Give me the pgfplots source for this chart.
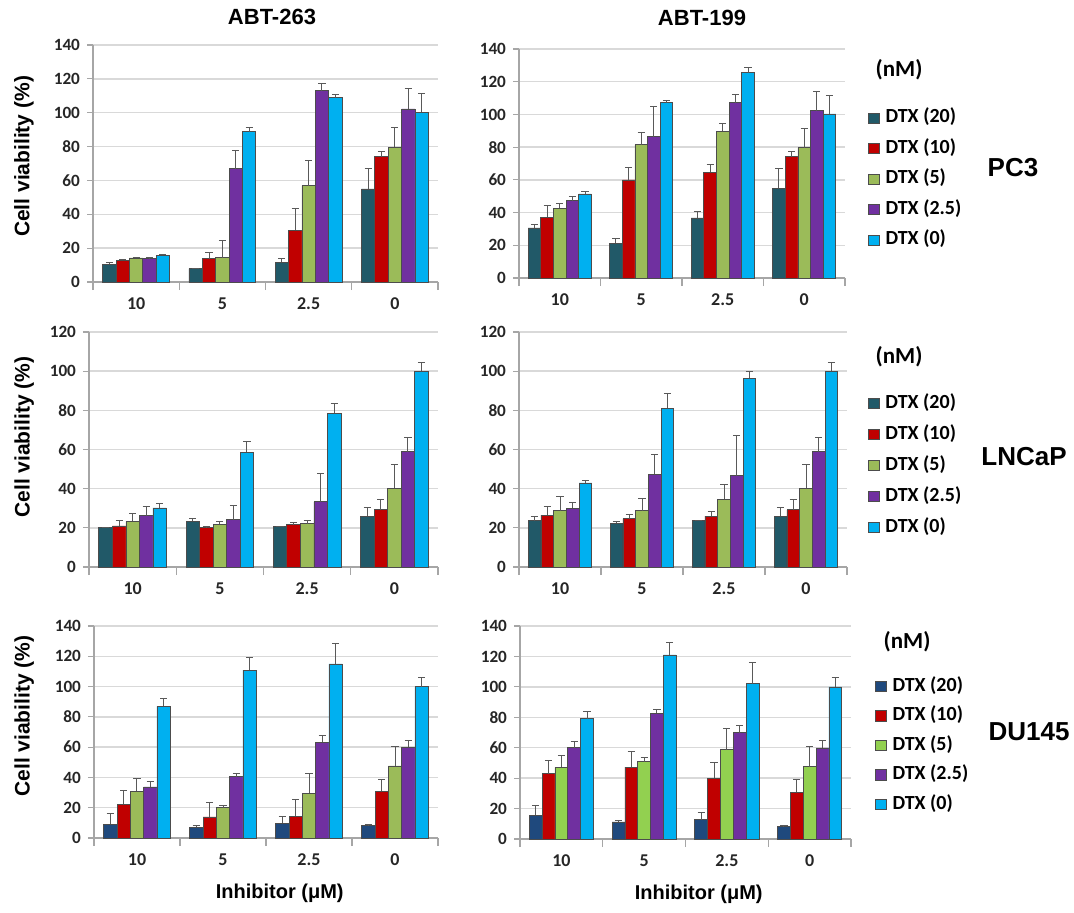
\documentclass[border=0pt]{standalone}
\usepackage{pgfplots}
\pgfplotsset{compat=1.18}
\usepackage{pgfplotstable}
\usepackage{fontspec}
\setmainfont{Carlito}
\newfontfamily\arialf{Liberation Sans}

\definecolor{cA}{HTML}{215968}
\definecolor{cAd}{HTML}{1F497D}
\definecolor{cB}{HTML}{C00000}
\definecolor{cC}{HTML}{9BBB59}
\definecolor{cCd}{HTML}{92D050}
\definecolor{cD}{HTML}{7030A0}
\definecolor{cE}{HTML}{00B0F0}
\definecolor{gridgray}{HTML}{D9D9D9}
\definecolor{axgray}{HTML}{A6A6A6}
\definecolor{errgray}{HTML}{595959}

\pgfplotstableread{
g a ea b eb c ec d ed e ee
0 10.6 1.2 12.8 0.5 14.2 0.4 14.0 0.4 15.9 0.4
1 7.9 0.0 13.8 3.9 14.4 10.0 66.9 10.8 88.9 2.3
2 11.8 2.0 30.7 12.9 57.0 15.0 113.0 4.4 108.9 2.0
3 55.0 12.2 74.1 3.0 79.6 11.6 102.2 12.0 100.3 11.2
}\tPCa
\pgfplotstableread{
g a ea b eb c ec d ed e ee
0 30.6 2.1 37.1 7.0 42.7 2.8 47.3 2.3 51.4 1.3
1 21.2 3.1 60.0 7.3 81.6 7.4 86.3 18.8 107.1 1.7
2 36.7 3.9 64.7 4.5 89.6 4.7 107.1 4.9 125.5 3.3
3 55.0 12.2 74.1 3.0 79.6 11.6 102.2 12.0 100.3 11.2
}\tPCb
\pgfplotstableread{
g a ea b eb c ec d ed e ee
0 20.2 0.0 21.0 2.6 23.3 4.0 26.3 4.8 30.2 2.2
1 23.3 1.3 20.0 0.5 21.9 1.5 24.1 7.5 58.6 5.6
2 20.9 0.0 21.6 1.3 22.2 1.4 33.3 14.2 78.4 4.9
3 26.0 4.2 29.2 5.3 40.1 12.2 58.9 7.1 100.0 4.5
}\tLNa
\pgfplotstableread{
g a ea b eb c ec d ed e ee
0 23.7 2.0 26.5 4.4 28.7 7.1 30.1 3.0 42.9 1.5
1 22.3 0.7 24.7 2.2 28.7 6.5 47.3 10.0 81.1 7.5
2 23.7 0.3 26.0 2.4 34.5 7.4 46.6 20.7 96.3 3.4
3 26.0 4.2 29.2 5.3 40.1 12.2 58.9 7.1 100.0 4.5
}\tLNb
\pgfplotstableread{
g a ea b eb c ec d ed e ee
0 9.0 7.0 22.2 9.3 31.0 8.0 33.7 3.7 87.0 5.3
1 7.0 1.0 13.9 9.7 20.0 1.5 40.5 2.0 110.8 8.4
2 9.9 4.0 14.5 11.0 29.5 13.0 63.2 4.8 115.0 13.6
3 8.1 0.9 30.8 8.0 47.6 13.0 59.9 4.6 100.0 6.0
}\tDUa
\pgfplotstableread{
g a ea b eb c ec d ed e ee
0 15.6 6.7 42.9 9.0 47.1 7.5 60.0 3.8 79.1 5.0
1 11.2 0.8 47.3 9.9 50.8 2.7 82.6 2.4 121.0 8.3
2 12.7 4.6 39.9 10.5 58.7 13.8 69.9 5.0 102.1 14.2
3 8.1 0.9 30.8 8.0 47.6 13.0 59.9 4.6 100.0 6.0
}\tDUb

\pgfplotsset{
  panel/.style={
    scale only axis, ybar, bar width=0.155,
    xmin=-0.5, xmax=3.5, ymin=0,
    xtick={0,1,2,3}, xticklabels={10,5,2.5,0},
    major x tick style={draw=none},
    minor xtick={-0.5,0.5,1.5,2.5,3.5},
    minor x tick style={draw=axgray, line width=0.6pt},
    minor tick length=4pt,
    axis x line*=bottom, axis y line*=left,
    axis line style={axgray, line width=0.7pt},
    tick align=outside,
    ymajorgrids, grid style={gridgray, line width=0.7pt},
    ytick distance=20,
    major y tick style={draw=axgray, line width=0.6pt},
    major tick length=3pt,
    tick label style={font=\bfseries\fontsize{8.6}{10}\selectfont, text=black!85},
    xticklabel style={font=\bfseries\fontsize{9}{10}\selectfont, yshift=-1.5pt},
    /pgf/number format/assume math mode=true,
    error bars/y dir=plus, error bars/y explicit,
    error bars/error bar style={errgray, line width=0.5pt},
    error bars/error mark options={errgray, line width=0.5pt, mark size=1.8pt, rotate=90},
    legend image code/.code={\draw[#1] (0pt,-2.6pt) rectangle (5.2pt,2.6pt);},
    legend cell align=left,
    legend style={anchor=west, draw=none, fill=none, inner sep=0pt,
      row sep=4.45pt, font=\bfseries\fontsize{10}{11}\selectfont,
      /tikz/every odd column/.append style={column sep=1.8pt},
      nodes={inner sep=1.2pt, text height=6.6pt, text depth=1.8pt}},
  },
  ylab/.style={ylabel={Cell viability (\%)},
    ylabel style={font=\arialf\bfseries\fontsize{10.5}{12}\selectfont, at={(axis description cs:#1)}, anchor=center}},
  xlab/.style={xlabel={Inhibitor (μM)},
    xlabel style={font=\arialf\bfseries\fontsize{10}{12}\selectfont, at={(axis description cs:#1)}, anchor=center}},
}

\newcommand\bars[3]{%
  \addplot[fill=#2, draw=black!70, line width=0.35pt, bar shift=-0.31] table[x=g,y=a,y error=ea]{#1};
  \addplot[fill=cB, draw=black!70, line width=0.35pt, bar shift=-0.155] table[x=g,y=b,y error=eb]{#1};
  \addplot[fill=#3, draw=black!70, line width=0.35pt, bar shift=0] table[x=g,y=c,y error=ec]{#1};
  \addplot[fill=cD, draw=black!70, line width=0.35pt, bar shift=0.155] table[x=g,y=d,y error=ed]{#1};
  \addplot[fill=cE, draw=black!70, line width=0.35pt, bar shift=0.31] table[x=g,y=e,y error=ee]{#1};
}

\begin{document}
\begin{tikzpicture}
\useasboundingbox (0,0) rectangle (537pt,456pt);

% Row 1: PC3
\begin{axis}[panel, at={(46.5pt,315pt)}, anchor=south west, width=172.5pt, height=118.5pt, ymax=140, ylab={-0.2,0.53}]
\bars{\tPCa}{cA}{cC}
\end{axis}
\begin{axis}[panel, at={(259.5pt,317pt)}, anchor=south west, width=163pt, height=114.5pt, ymax=140,
  legend style={at={(1.0706,0.432)}}]
\bars{\tPCb}{cA}{cC}
\legend{DTX (20),DTX (10),DTX (5),DTX (2.5),DTX (0)}
\end{axis}

% Row 2: LNCaP
\begin{axis}[panel, at={(44.5pt,172.5pt)}, anchor=south west, width=174.5pt, height=117.5pt, ymax=120, ylab={-0.186,0.553}]
\bars{\tLNa}{cA}{cC}
\end{axis}
\begin{axis}[panel, at={(259.5pt,172.5pt)}, anchor=south west, width=164pt, height=117.5pt, ymax=120,
  legend style={at={(1.064,0.432)}, row sep=4.7pt}]
\bars{\tLNb}{cA}{cC}
\legend{DTX (20),DTX (10),DTX (5),DTX (2.5),DTX (0)}
\end{axis}

% Row 3: DU145
\begin{axis}[panel, at={(47pt,37pt)}, anchor=south west, width=172pt, height=106pt, ymax=140, ylab={-0.203,0.575}, xlab={0.54,-0.26}]
\bars{\tDUa}{cAd}{cC}
\end{axis}
\begin{axis}[panel, at={(260pt,36.5pt)}, anchor=south west, width=165.5pt, height=106.5pt, ymax=140, xlab={0.54,-0.26},
  legend style={at={(1.0725,0.439)}, row sep=3.95pt}]
\bars{\tDUb}{cAd}{cCd}
\legend{DTX (20),DTX (10),DTX (5),DTX (2.5),DTX (0)}
\end{axis}

% Column titles
\node[font=\arialf\bfseries\fontsize{11}{13}\selectfont] at (136pt,447.5pt) {ABT-263};
\node[font=\arialf\bfseries\fontsize{11}{13}\selectfont] at (351pt,447pt) {ABT-199};
% Legend titles
\node[font=\bfseries\fontsize{11.5}{13}\selectfont] at (449.5pt,421pt) {(nM)};
\node[font=\bfseries\fontsize{11.5}{13}\selectfont] at (449.5pt,277.5pt) {(nM)};
\node[font=\bfseries\fontsize{11.5}{13}\selectfont] at (453.5pt,135pt) {(nM)};
% Row labels
\node[font=\arialf\bfseries\fontsize{13}{15}\selectfont] at (506.5pt,372pt) {PC3};
\node[font=\arialf\bfseries\fontsize{13}{15}\selectfont] at (512pt,227.5pt) {LNCaP};
\node[font=\arialf\bfseries\fontsize{13}{15}\selectfont] at (514.5pt,90pt) {DU145};
\end{tikzpicture}
\end{document}
